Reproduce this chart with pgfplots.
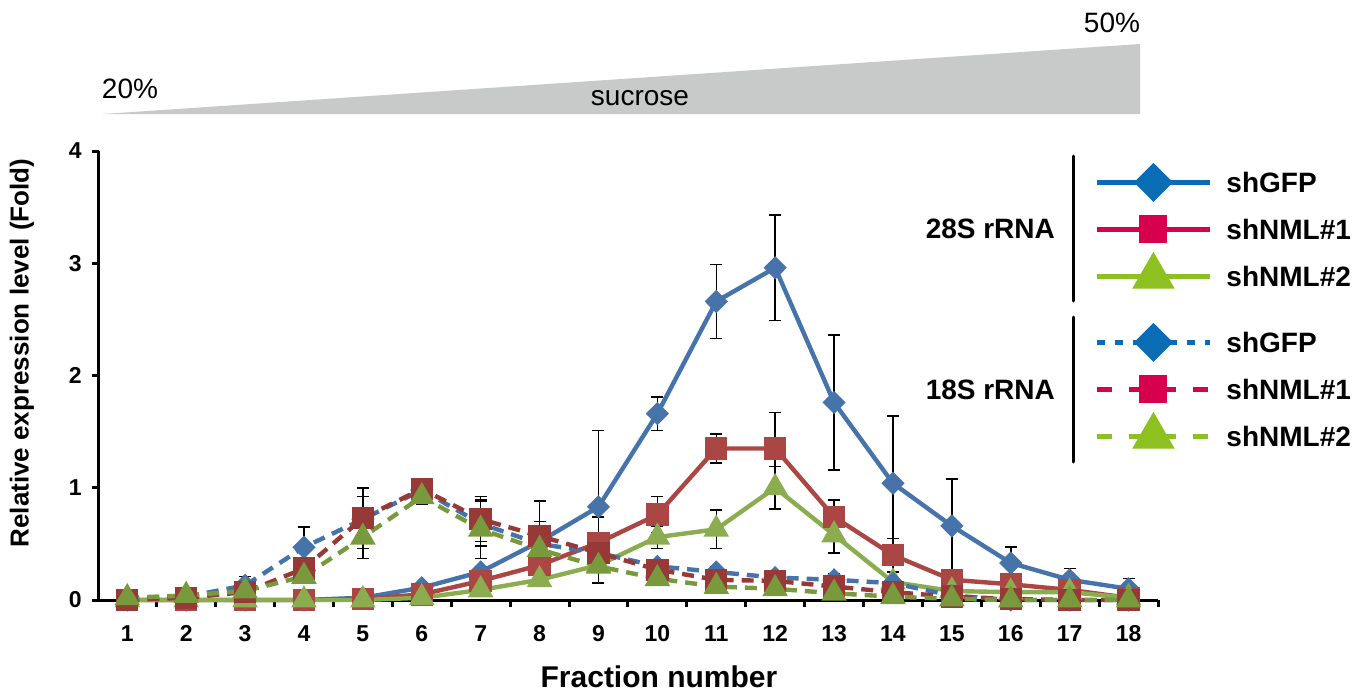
\documentclass[border=0pt]{standalone}
\usepackage{fontspec}
\setmainfont{Liberation Sans}
\usepackage{pgfplots}
\pgfplotsset{compat=1.18}
\usepackage{pgfplotstable}

% plot colours (lines in the chart)
\definecolor{lnblue}{HTML}{4573AA}
\definecolor{lnred}{HTML}{AA4643}
\definecolor{lngreen}{HTML}{8CAD4F}
\definecolor{lndred}{HTML}{973A37}
\definecolor{lndgreen}{HTML}{789A3C}
% legend colours are brighter
\definecolor{lgblue}{HTML}{0A6CB4}
\definecolor{lgred}{HTML}{D6004F}
\definecolor{lggreen}{HTML}{8DC021}
\definecolor{wedge}{HTML}{C8C9C9}

% 28S rRNA
\pgfplotstableread{
x y e
1 0 0
2 0 0
3 0 0
4 0 0
5 0.02 0
6 0.11 0
7 0.25 0.05
8 0.52 0.05
9 0.83 0.68
10 1.66 0.15
11 2.66 0.33
12 2.96 0.47
13 1.76 0.60
14 1.04 0.60
15 0.66 0.42
16 0.33 0.14
17 0.18 0.10
18 0.10 0.09
}\bigGFP
\pgfplotstableread{
x y e
1 0 0
2 0 0
3 0 0
4 0 0
5 0.01 0
6 0.05 0
7 0.17 0
8 0.31 0
9 0.51 0.23
10 0.76 0.16
11 1.35 0.13
12 1.35 0.32
13 0.74 0.15
14 0.40 0.15
15 0.18 0
16 0.14 0
17 0.09 0
18 0.02 0
}\bigNMLa
\pgfplotstableread{
x y e
1 0 0
2 0 0
3 0 0
4 0 0
5 0 0
6 0.02 0
7 0.09 0
8 0.18 0
9 0.31 0
10 0.56 0.10
11 0.63 0.17
12 1.00 0.19
13 0.58 0.16
14 0.16 0
15 0.08 0
16 0.07 0
17 0.07 0
18 0.02 0
}\bigNMLb
% 18S rRNA
\pgfplotstableread{
x y e
1 0.01 0
2 0.03 0
3 0.13 0.08
4 0.47 0.18
5 0.72 0.20
6 0.98 0.10
7 0.68 0.20
8 0.50 0.20
9 0.42 0.10
10 0.30 0.05
11 0.25 0.05
12 0.20 0
13 0.18 0.05
14 0.15 0
15 0.04 0
16 0 0
17 0 0
18 0 0
}\smGFP
\pgfplotstableread{
x y e
1 0 0
2 0.02 0
3 0.07 0
4 0.28 0
5 0.73 0.27
6 0.99 0.08
7 0.72 0.20
8 0.57 0.31
9 0.42 0
10 0.27 0
11 0.18 0
12 0.17 0
13 0.12 0
14 0.07 0
15 0.03 0
16 0.01 0
17 0 0
18 0 0
}\smNMLa
\pgfplotstableread{
x y e
1 0.02 0
2 0.04 0
3 0.08 0
4 0.21 0
5 0.56 0.19
6 0.92 0.07
7 0.63 0.26
8 0.45 0
9 0.30 0.15
10 0.19 0
11 0.12 0
12 0.10 0
13 0.06 0
14 0.03 0
15 0.01 0
16 0 0
17 0 0
18 0 0
}\smNMLb

\pgfplotsset{
  errs/.style={error bars/.cd, y dir=both, y explicit,
    error bar style={line width=0.75pt, black, solid},
    error mark options={rotate=90, mark size=3pt, line width=0.75pt, black, solid}},
  dia/.style={mark=diamond*, mark size=4.25pt, mark options={xscale=1.33, solid}},
  sqr/.style={mark=square*, mark size=4.5pt, mark options={solid}},
  tri/.style={mark=triangle*, mark size=5.2pt, mark options={solid}},
  dsh/.style={dash pattern=on 6pt off 4pt},
  grp legend/.style={
    legend style={draw=none, fill=none, inner sep=0pt, row sep=4.5pt,
      anchor=north west, at={(#1)},
      font=\bfseries\fontsize{14}{16}\selectfont,
      nodes={inner sep=0pt, text height=15pt, text depth=4pt},
      /tikz/every odd column/.append style={column sep=7pt}},
    legend cell align=left,
    legend image code/.code={\draw[mark repeat=2, mark phase=2, ##1]
      plot coordinates {(0pt,-0.5pt) (28.25pt,-0.5pt) (56.5pt,-0.5pt)};}},
}

\begin{document}
\begin{tikzpicture}[x=1pt,y=1pt]
\useasboundingbox (-49.5,-46.5) rectangle (634,300);
% sucrose gradient wedge
\fill[wedge] (2,243) -- (520.5,243) -- (520.5,278) -- cycle;
\node[anchor=base, font=\fontsize{14}{16}\selectfont] at (15.5,251) {20\%};
\node[anchor=base, font=\fontsize{14}{16}\selectfont] at (506.5,284) {50\%};
\node[anchor=base, font=\fontsize{14}{16}\selectfont] at (270.5,247.5) {sucrose};

\begin{axis}[
  at={(0,0)}, anchor=south west,
  scale only axis, width=529.5pt, height=224.5pt,
  xmin=0.52, xmax=18.5, ymin=0, ymax=4,
  clip=false,
  axis x line*=bottom, axis y line*=left,
  axis line style={line width=1.5pt, black},
  xtick={1,...,18}, minor xtick={1.5,2.5,...,18.5},
  major x tick style={draw=none},
  ytick={0,1,2,3,4},
  tick align=outside,
  major tick length=3.5pt, minor tick length=3.5pt,
  every tick/.style={line width=1.5pt, black},
  minor tick style={line width=1.5pt, black},
  ticklabel style={font=\bfseries\fontsize{11.5}{13}\selectfont, inner sep=0pt},
  /pgf/number format/assume math mode=true,
  xticklabel style={anchor=north}, xticklabel shift=9.2pt,
  yticklabel style={anchor=east}, yticklabel shift=5pt,
  xlabel={Fraction number},
  ylabel={Relative expression level (Fold)},
  xlabel style={at={(axis description cs:0.5288,-0.1715)}, anchor=center,
    font=\bfseries\fontsize{15}{17}\selectfont},
  ylabel style={at={(axis description cs:-0.0727,0.55)}, anchor=center,
    font=\bfseries\fontsize{13}{15}\selectfont},
  grp legend={0.9396,0.9755},
]
\addplot[forget plot, lnblue, line width=2.2pt, dia, errs] table[x=x, y=y, y error=e] {\bigGFP};
\addplot[forget plot, lnred, line width=2.2pt, sqr, errs] table[x=x, y=y, y error=e] {\bigNMLa};
\addplot[forget plot, lngreen, line width=2.2pt, tri, errs] table[x=x, y=y, y error=e] {\bigNMLb};
\addplot[forget plot, lnblue, line width=2.2pt, dsh, dia, errs] table[x=x, y=y, y error=e] {\smGFP};
\addplot[forget plot, lndred, line width=2.2pt, dsh, sqr, errs] table[x=x, y=y, y error=e] {\smNMLa};
\addplot[forget plot, lndgreen, line width=2.2pt, dsh, tri, errs] table[x=x, y=y, y error=e] {\smNMLb};

\addlegendimage{lgblue, line width=2.5pt, mark=diamond*, mark size=8pt, mark options={xscale=1.33}}
\addlegendimage{lgred, line width=2.5pt, mark=square*, mark size=5.75pt}
\addlegendimage{lggreen, line width=2.5pt, mark=triangle*, mark size=9.8pt}
\legend{shGFP, shNML\#1, shNML\#2}
\end{axis}

\begin{axis}[
  at={(0,0)}, anchor=south west,
  scale only axis, width=529.5pt, height=224.5pt,
  xmin=0, xmax=1, ymin=0, ymax=1, hide axis,
  grp legend={0.9396,0.6192},
]
\addlegendimage{lgblue, line width=2.5pt, dash pattern=on 4pt off 5pt, mark=diamond*, mark size=8pt, mark options={xscale=1.33, solid}}
\addlegendimage{lgred, line width=2.5pt, dash pattern=on 7.5pt off 8.5pt, mark=square*, mark size=5.75pt, mark options={solid}}
\addlegendimage{lggreen, line width=2.5pt, dash pattern=on 7.5pt off 8.5pt, mark=triangle*, mark size=9.8pt, mark options={solid}}
\legend{shGFP, shNML\#1, shNML\#2}
\end{axis}

% group labels with their brackets
\node[anchor=base east, font=\bfseries\fontsize{14}{16}\selectfont] at (481.5,181) {28S rRNA};
\node[anchor=base east, font=\bfseries\fontsize{14}{16}\selectfont] at (481.5,100.5) {18S rRNA};
\draw[line width=1.5pt, line cap=round] (487,222) -- (487,149.5);
\draw[line width=1.5pt, line cap=round] (487,141.5) -- (487,69);
\end{tikzpicture}
\end{document}
